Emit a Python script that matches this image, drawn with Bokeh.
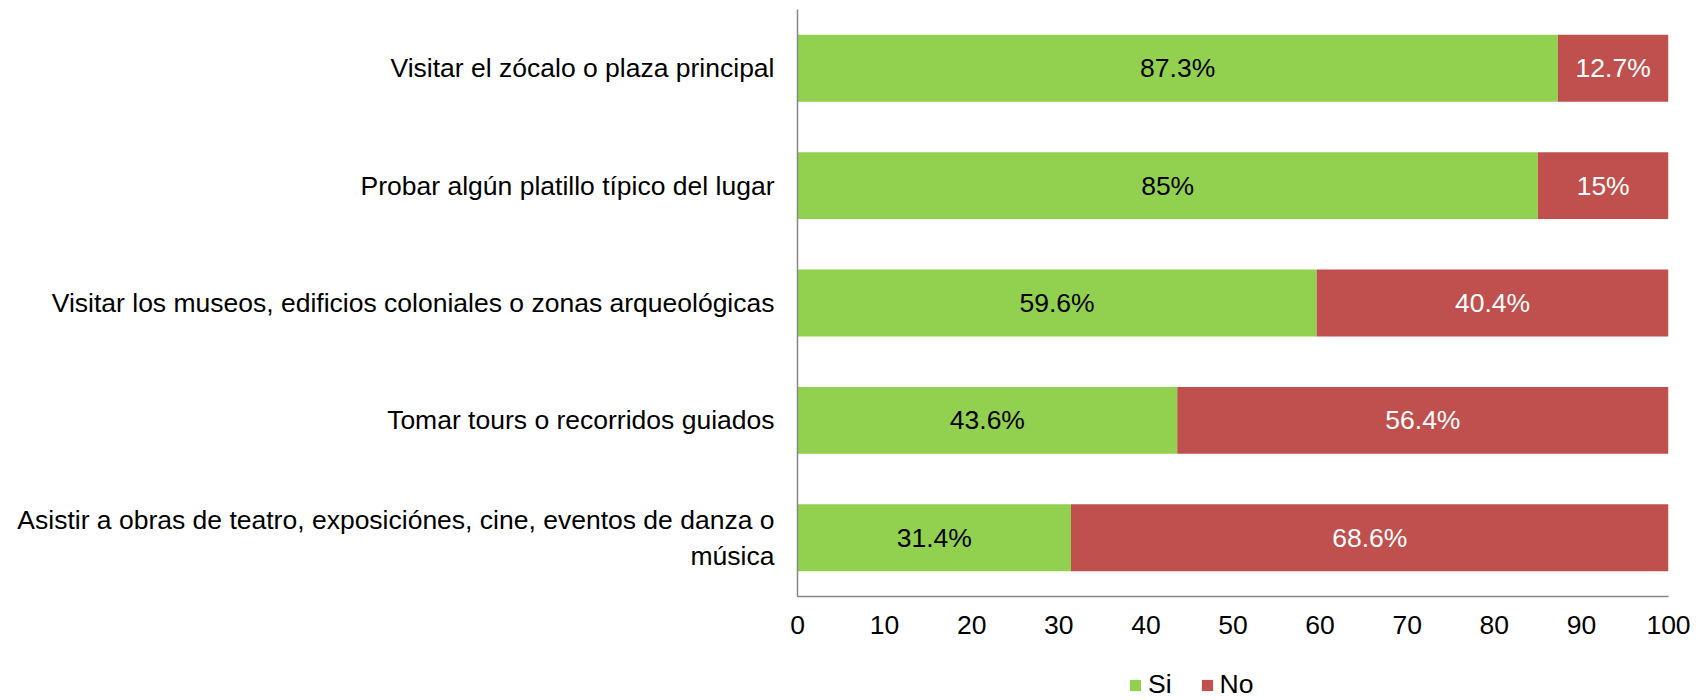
from bokeh.plotting import figure
from bokeh.models import FactorRange, Range1d, FixedTicker, ColumnDataSource, Legend, LegendItem, LabelSet
from bokeh.layouts import column
from bokeh.core.properties import value
from bokeh.embed import file_html
from bokeh.resources import INLINE

categories = [
    "Visitar el zócalo o plaza principal",
    "Probar algún platillo típico del lugar",
    "Visitar los museos, edificios coloniales o zonas arqueológicas",
    "Tomar tours o recorridos guiados",
    "Asistir a obras de teatro, exposiciónes, cine, eventos de danza o\nmúsica",
]
si_values = [87.3, 85, 59.6, 43.6, 31.4]
no_values = [12.7, 15, 40.4, 56.4, 68.6]
series_names = ["Si", "No"]
x_ticks = [0, 10, 20, 30, 40, 50, 60, 70, 80, 90, 100]

GREEN = "#92D050"
RED = "#C0504D"
COLORS = [GREEN, RED]
FONT = "Liberation Sans"
FS = "26.5px"

def fmt(v):
    return f"{v:g}%"

src = ColumnDataSource(dict(
    cat=categories,
    Si=si_values,
    No=no_values,
    si_mid=[v / 2 for v in si_values],
    no_mid=[s + n / 2 for s, n in zip(si_values, no_values)],
    si_lbl=[fmt(v) for v in si_values],
    no_lbl=[fmt(v) for v in no_values],
))

FRAME_LEFT = 797
p = figure(
    width=1692, height=640,
    y_range=FactorRange(factors=categories[::-1], range_padding=0),
    x_range=Range1d(0, 100),
    output_backend="svg", toolbar_location=None,
    min_border_left=FRAME_LEFT, min_border_right=24, min_border_top=9, min_border_bottom=44,
)

p.hbar_stack(series_names, y="cat", height=0.57, color=COLORS,
             line_color=None, source=src)

p.add_layout(LabelSet(x="si_mid", y="cat", text="si_lbl", source=src,
                      text_align="center", text_baseline="middle",
                      text_color="black", text_font=value(FONT), text_font_size=value(FS)))
p.add_layout(LabelSet(x="no_mid", y="cat", text="no_lbl", source=src,
                      text_align="center", text_baseline="middle",
                      text_color="white", text_font=value(FONT), text_font_size=value(FS)))

p.xgrid.grid_line_color = None
p.ygrid.grid_line_color = None
p.outline_line_color = None

for ax in (p.xaxis[0], p.yaxis[0]):
    ax.axis_line_color = "#868686"
    ax.axis_line_width = 1.5
    ax.major_tick_line_color = None
    ax.minor_tick_line_color = None
    ax.major_label_text_font = FONT
    ax.major_label_text_font_size = FS
    ax.major_label_text_color = "black"

p.xaxis.ticker = FixedTicker(ticks=x_ticks)
p.xaxis.major_label_standoff = 13
p.yaxis.major_label_standoff = 17

# Legend in its own strip below the chart (its frame aligns with the chart frame)
lg = figure(width=1692, height=60, x_range=Range1d(0, 1), y_range=Range1d(0, 1),
            x_axis_type=None, y_axis_type=None, output_backend="svg",
            toolbar_location=None, min_border=0)
lg.outline_line_color = None
lg.xgrid.grid_line_color = None
lg.ygrid.grid_line_color = None
nan = float("nan")
dummies = [lg.rect(x=[nan], y=[nan], width=1, height=1, fill_color=c, line_color=None)
           for c in COLORS]
legend = Legend(items=[LegendItem(label=value(n), renderers=[r]) for n, r in zip(series_names, dummies)],
                orientation="horizontal", location=(1128 - FRAME_LEFT, 0),
                label_text_font=FONT, label_text_font_size=FS, label_text_color="black",
                glyph_width=14, glyph_height=14, spacing=28, label_standoff=6,
                border_line_color=None, background_fill_alpha=0,
                margin=0, padding=0)
lg.add_layout(legend, "center")

layout = column(p, lg, spacing=0)
open("out.html", "w").write(file_html(layout, INLINE))
